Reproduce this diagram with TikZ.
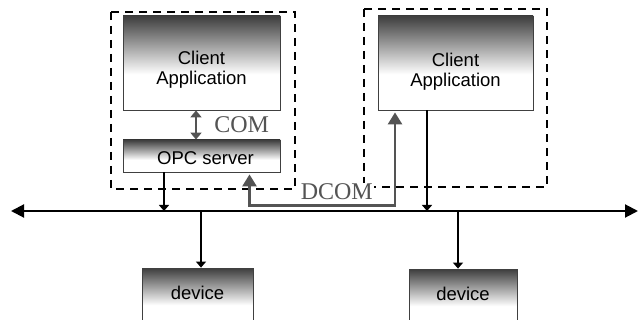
\documentclass[tikz,border=0pt]{standalone}
\usepackage{fontspec}
\setmainfont{Liberation Sans}
\newfontfamily\protofont{Liberation Serif}
\usepackage{tikz}
\usetikzlibrary{arrows.meta}

\pgfdeclareverticalshading{appshade}{100bp}{color(0bp)=(white); color(25bp)=(white); color(44bp)=(white); color(75bp)=(black!76); color(100bp)=(black!76)}

% two-line box text, pushed down a little
\newcommand{\apptext}[2][7pt]{\raisebox{-#1}[\height][\depth]{\begin{tabular}{@{}c@{}}#2\end{tabular}}}

\begin{document}
\begin{tikzpicture}[x=1pt, y=-1pt,
    box/.style={draw=black!75, line width=0.8pt, shade, shading=appshade, inner sep=0pt,
      font=\fontsize{18.5}{20}\selectfont},
    group/.style={draw, line width=1.8pt, dash pattern=on 8pt off 6pt},
    bus/.style={line width=2pt, {Triangle[length=13pt,width=13pt]}-{Triangle[length=13pt,width=13pt]}},
    tap/.style={line width=1.3pt, -{Triangle[length=6pt,width=10pt]}},
    com/.style={draw=black!67, line width=2.6pt, {Triangle[length=7pt,width=11pt]}-{Triangle[length=7pt,width=11pt]}},
    dcom/.style={draw=black!67, line width=2.6pt, {Triangle[length=12pt,width=14pt]}-{Triangle[length=12pt,width=14pt]},
      shorten <=2pt, shorten >=2pt},
    proto/.style={text=black!67, fill=white, inner sep=1pt, font=\protofont\fontsize{24}{24}\selectfont}]

    \useasboundingbox (0,0) rectangle (639,320);
    \clip (0,0) rectangle (639,320);

    % dashed frames
    \draw[group] (111,12) rectangle (295,189);
    \draw[group] (364,9) rectangle (547,187);

    \node[box, minimum width=157pt, minimum height=94pt] (leftapp) at (201.5,63) {\apptext[8pt]{Client\\Application}};
    \node[box, minimum width=157pt, minimum height=32pt, text height=18pt] (opc) at (201.5,156) {\hspace{8pt}OPC server};
    \node[box, minimum width=155pt, minimum height=94pt] (rightapp) at (455.5,63) {\apptext[10pt]{Client\\Application}};
    \node[box, minimum width=111pt, minimum height=60pt, text height=13pt, text depth=11pt] (devA) at (197.5,298) {device};
    \node[box, minimum width=108pt, minimum height=60pt, text height=13pt, text depth=11pt] (devB) at (463,299) {device};

    % network
    \coordinate (busL) at (11,211);
    \coordinate (busR) at (638,211);
    \draw[bus] (busL) -- (busR);

    \coordinate (opcout) at ([xshift=-37.5pt]opc.south);
    \coordinate (appout) at ([xshift=-28.5pt]rightapp.south);
    \coordinate (devAin) at ([xshift=3.5pt]devA.north);
    \coordinate (devBin) at ([xshift=-5pt]devB.north);
    \draw[tap] (opcout) -- (opcout |- busL);
    \draw[tap] (appout) -- (appout |- busL);
    \draw[tap] (devAin |- busL) -- (devAin);
    \draw[tap] (devBin |- busL) -- (devBin);

    % COM / DCOM
    \draw[com] ([xshift=-5.5pt]leftapp.south) -- node[proto, right=16pt] {COM} ([xshift=-5.5pt]opc.north);
    \draw[dcom] ([xshift=48pt]opc.south) -- ++(0,33) -| node[proto, pos=0.3, above=3pt] {DCOM} ([xshift=-60.5pt]rightapp.south);
\end{tikzpicture}
\end{document}
